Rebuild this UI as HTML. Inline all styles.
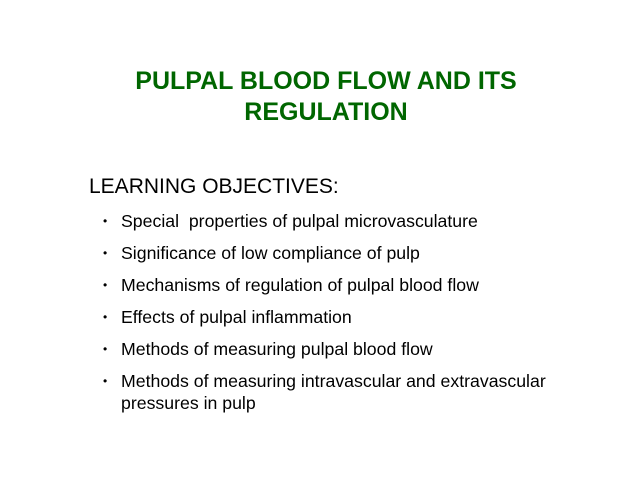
<!DOCTYPE html>
<html><head><style>
body{margin:0;width:640px;height:480px;background:#fff;position:relative;overflow:hidden;font-family:"Liberation Sans",Arial,sans-serif}
.t{position:absolute;left:0;width:652px;text-align:center;color:#006600;font-weight:bold;font-size:25px;line-height:26px;white-space:nowrap}
.h{position:absolute;left:89px;font-size:21px;line-height:22px;color:#000;white-space:nowrap}
.b{position:absolute;left:103px;font-size:17.7px;line-height:22px;color:#000;white-space:nowrap}
.b i{font-style:normal;font-size:12px;vertical-align:2px}
.b span{position:absolute;left:18px}
</style></head><body>
<div class="t" style="top:68px">PULPAL BLOOD FLOW AND ITS</div>
<div class="t" style="top:99px">REGULATION</div>
<div class="h" style="top:176px">LEARNING OBJECTIVES:</div>
<div class="b" style="top:210px"><i>•</i><span>Special&nbsp; properties of pulpal microvasculature</span></div>
<div class="b" style="top:242px"><i>•</i><span>Significance of low compliance of pulp</span></div>
<div class="b" style="top:274px"><i>•</i><span>Mechanisms of regulation of pulpal blood flow</span></div>
<div class="b" style="top:306px"><i>•</i><span>Effects of pulpal inflammation</span></div>
<div class="b" style="top:338px"><i>•</i><span>Methods of measuring pulpal blood flow</span></div>
<div class="b" style="top:370px"><i>•</i><span>Methods of measuring intravascular and extravascular<br>pressures in pulp</span></div>
</body></html>
